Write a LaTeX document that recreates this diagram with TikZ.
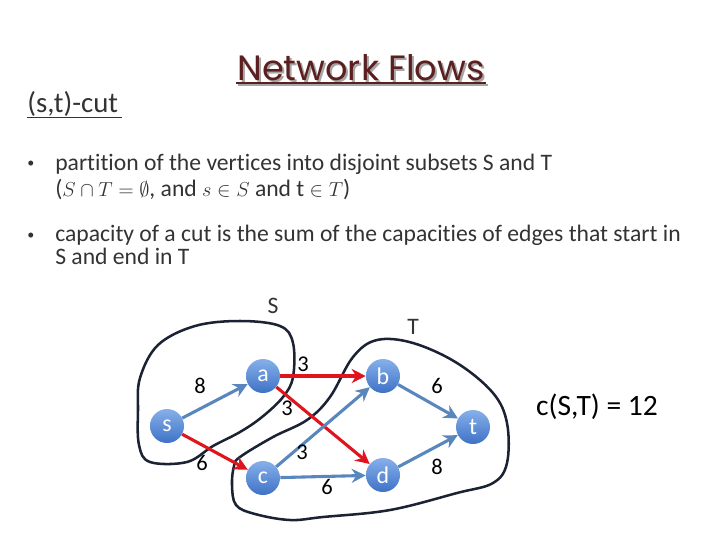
\documentclass[tikz,border=0pt]{standalone}
\usepackage{amsmath,amssymb}
\usepackage{fontspec}
\setmainfont{Carlito}[Ligatures={NoCommon,NoDiscretionary}]
\newfontfamily\titlefont{Poppins}
\usepackage{xcolor}
\usetikzlibrary{arrows.meta,positioning,calc}
\definecolor{titleRed}{HTML}{5C1F1F}
\definecolor{textGray}{HTML}{333333}
\definecolor{edgeBlue}{HTML}{5A86BE}
\definecolor{edgeRed}{HTML}{E0141C}
\definecolor{nodeTop}{HTML}{86B0EA}
\definecolor{nodeBot}{HTML}{3F72C6}
\definecolor{cutInk}{HTML}{1A2233}
\newcommand{\smallmath}[1]{{\fontsize{15}{17}\selectfont$#1$}}

\begin{document}
\begin{tikzpicture}[
    x=0.025cm,y=-0.025cm,
    >={Stealth[length=10pt,width=10pt]},
    every node/.style={font=\fontsize{16.8}{17.8}\selectfont,text=textGray},
    textline/.style={anchor=base west,inner sep=0pt},
    dot/.style={font=\fontsize{10}{12}\selectfont},
    vertex/.style={circle,minimum size=34*0.025cm,inner sep=0pt,draw=none,
                   top color=nodeTop,bottom color=nodeBot,
                   text=white,font=\fontsize{17}{18}\selectfont},
    flow/.style={->,line width=2.2pt,draw=edgeBlue},
    cutflow/.style={->,line width=2.2pt,draw=edgeRed},
    weight/.style={text=black,font=\fontsize{16}{18}\selectfont},
    cutline/.style={line width=1.8pt,draw=cutInk,line join=round}
  ]
  \useasboundingbox (0,0) rectangle (720,540);
  %% Title and heading
  \node[text=black!35,font=\titlefont\fontsize{25}{30}\selectfont] (shadow) at (363,70) {Network Flows};
  \node[text=titleRed,font=\titlefont\fontsize{25}{30}\selectfont] (title) at (361,68) {Network Flows};
  \draw[black!35,line width=1.6pt] (238,85) -- (488,85);
  \draw[titleRed,line width=1.6pt] (236,83) -- (486,83);
  \node[anchor=west,inner sep=0pt,font=\fontsize{20.5}{22}\selectfont] (cut) at (27,104) {(s,t)-cut};
  \draw[textGray,line width=0.6pt] (27,117) -- (122,117);
  %% Bullets
  \node[dot] (b1) at (31,164) {\textbullet};
  \node[textline] (p1a) at (55,170) {partition of the vertices into disjoint subsets S and T};
  \node[textline] (p1b) at (55,196)
    {(\smallmath{S\cap T=\emptyset}, and \smallmath{s\in S} and t \smallmath{\in T})};
  \node[dot] (b2) at (31,236) {\textbullet};
  \node[textline] (p2a) at (55,241) {capacity of a cut is the sum of the capacities of edges that start in};
  \node[textline] (p2b) at (55,264) {S and end in T};
  %% Cut curves
  \draw[cutline] plot[smooth cycle,tension=0.6] coordinates {
    (140,378) (158,345) (195,326) (240,321) (280,326) (293,343) (293,377)
    (283,397) (262,417) (240,432) (213,446) (187,462) (150,462) (139,445) (138,410)};
  \draw[cutline] plot[smooth cycle,tension=0.6] coordinates {
    (240,457) (273,437) (307,420) (330,397) (353,357) (377,340) (413,343)
    (457,363) (493,393) (507,423) (507,463) (493,483) (457,493) (390,510)
    (323,517) (290,520) (255,514) (236,505) (232,485) (234,466)};
  \node (lblS) at (273,306) {S};
  \node (lblT) at (413,327) {T};
  %% Vertices
  \node[vertex] (s) at (167,426) {s};
  \node[vertex] (a) at (263,376) {a};
  \node[vertex] (b) at (383,376) {b};
  \node[vertex] (c) at (263,478) {c};
  \node[vertex] (d) at (383,475) {d};
  \node[vertex] (t) at (473,427) {t};
  %% Edges
  \draw[flow] (s) -- (a);
  \draw[cutflow] (s) -- (c);
  \draw[cutflow] (a) -- (b);
  \draw[cutflow] (a) -- (d);
  \draw[flow] (c) -- (b);
  \draw[flow] (c) -- (d);
  \draw[flow] (b) -- (t);
  \draw[flow] (d) -- (t);
  %% Capacities
  \node[weight] (wsa) at (200,386) {8};
  \node[weight] (wsc) at (202,463) {6};
  \node[weight] (wab) at (303,364) {3};
  \node[weight] (wad) at (287,408) {3};
  \node[weight] (wcb) at (302,452) {3};
  \node[weight] (wcd) at (327,487) {6};
  \node[weight] (wbt) at (437,386) {6};
  \node[weight] (wdt) at (437,467) {8};
  \node[text=black,font=\fontsize{21}{24}\selectfont] (cap) at (597,407) {c(S,T) = 12};
\end{tikzpicture}
\end{document}
